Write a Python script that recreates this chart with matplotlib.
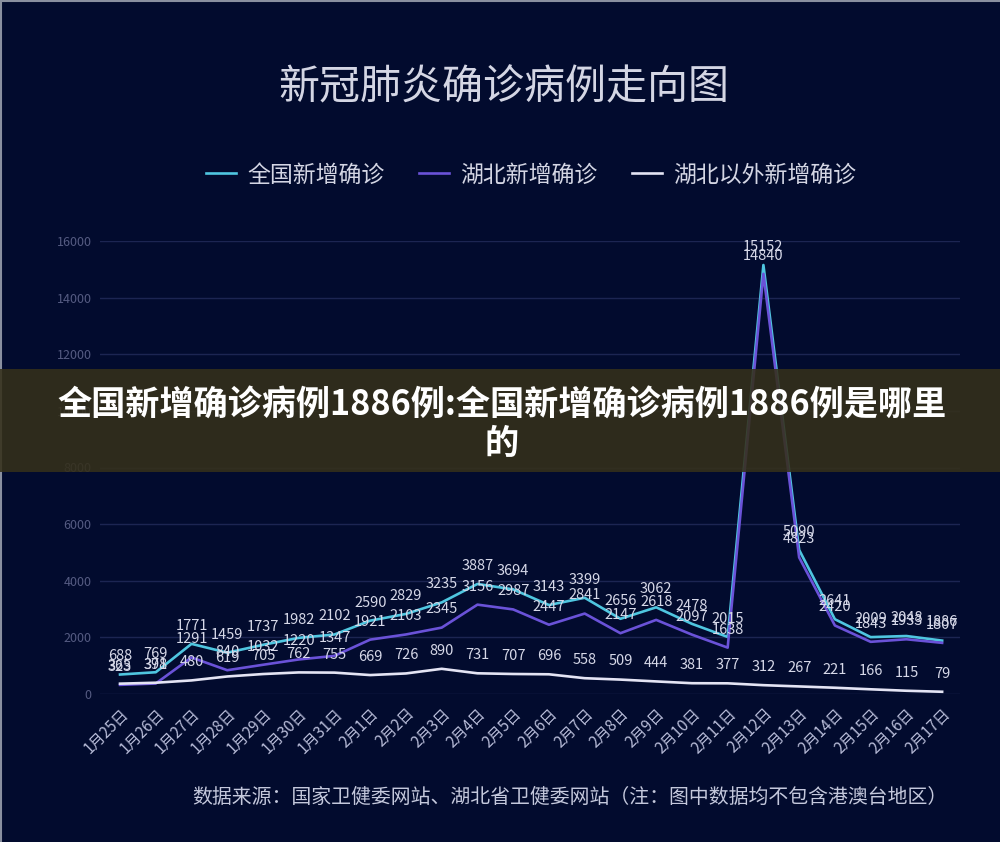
import matplotlib.pyplot as plt
from matplotlib.lines import Line2D
from matplotlib.patches import Rectangle

plt.rcParams['font.family'] = ['Noto Sans CJK SC', 'DejaVu Sans']

dates = ['1月25日', '1月26日', '1月27日', '1月28日', '1月29日', '1月30日', '1月31日',
         '2月1日', '2月2日', '2月3日', '2月4日', '2月5日', '2月6日', '2月7日', '2月8日',
         '2月9日', '2月10日', '2月11日', '2月12日', '2月13日', '2月14日', '2月15日',
         '2月16日', '2月17日']
national = [688, 769, 1771, 1459, 1737, 1982, 2102, 2590, 2829, 3235, 3887, 3694,
            3143, 3399, 2656, 3062, 2478, 2015, 15152, 5090, 2641, 2009, 2048, 1886]
hubei = [323, 371, 1291, 840, 1032, 1220, 1347, 1921, 2103, 2345, 3156, 2987,
         2447, 2841, 2147, 2618, 2097, 1638, 14840, 4823, 2420, 1843, 1933, 1807]
outside = [365, 398, 480, 619, 705, 762, 755, 669, 726, 890, 731, 707,
           696, 558, 509, 444, 381, 377, 312, 267, 221, 166, 115, 79]

series = [
    ('全国新增确诊', national, '#4fc6e0'),
    ('湖北新增确诊', hubei, '#6a52d8'),
    ('湖北以外新增确诊', outside, '#e4e4f4'),
]

bg = '#020b2e'
fig = plt.figure(figsize=(10, 8.42), dpi=100, facecolor=bg)
ax = fig.add_axes([0.10, 1 - 694 / 842, 0.86, (694 - 241) / 842])
ax.set_facecolor(bg)

x = list(range(len(dates)))
handles = []
for name, vals, col in series:
    h, = ax.plot(x, vals, color=col, lw=1.9, label=name, zorder=3)
    handles.append(h)
    for xi, v in zip(x, vals):
        ax.annotate(str(v), (xi, v), xytext=(0, 8), textcoords='offset points',
                    ha='center', va='bottom', fontsize=10.5, color='#d6d8e8', zorder=4)

ax.set_ylim(0, 16000)
ax.set_xlim(-0.56, len(dates) - 1 + 0.5)
ax.set_yticks(range(0, 16001, 2000))
ax.grid(axis='y', color='#1c2552', lw=1)
ax.set_axisbelow(True)
for s in ax.spines.values():
    s.set_visible(False)
ax.tick_params(axis='y', length=0, pad=6, labelsize=9, labelcolor='#555b82')
ax.tick_params(axis='x', length=0, pad=8, labelsize=11, labelcolor='#b8bcd8')
ax.set_xticks(x)
ax.set_xticklabels(dates, rotation=45, ha='right', rotation_mode='anchor')

fig.text(0.504, 1 - 88 / 842, '新冠肺炎确诊病例走向图', ha='center', va='center',
         fontsize=29.5, color='#d4d6e4')

fig.legend(handles=handles, loc='center', bbox_to_anchor=(0.531, 1 - 175 / 842),
           ncol=3, frameon=False, fontsize=16.5, labelcolor='#d4d6e4',
           handlelength=1.3, handletextpad=0.5, columnspacing=1.5)

fig.text(0.192, 1 - 797 / 842,
         '数据来源：国家卫健委网站、湖北省卫健委网站（注：图中数据均不包含港澳台地区）',
         ha='left', va='center', fontsize=14.3, color='#c4c8dc')

# overlay banner
fig.add_artist(Rectangle((0, 1 - 472 / 842), 1, (472 - 369) / 842,
                         transform=fig.transFigure, facecolor='#35301a', alpha=0.88,
                         edgecolor='none', zorder=10))
fig.text(0.502, 1 - 405 / 842, '全国新增确诊病例1886例:全国新增确诊病例1886例是哪里',
         ha='center', va='center', fontsize=24.6, fontweight='bold', color='white', zorder=11)
fig.text(0.502, 1 - 443 / 842, '的', ha='center', va='center', fontsize=24.6,
         fontweight='bold', color='white', zorder=11)

# thin frame on top and left
fig.add_artist(Line2D([0, 1], [0.999, 0.999], transform=fig.transFigure, color='#8a90a0', lw=1.5))
fig.add_artist(Line2D([0.001, 0.001], [0, 1], transform=fig.transFigure, color='#8a90a0', lw=1.5))

fig.savefig('out.png', dpi=100, facecolor=bg)
